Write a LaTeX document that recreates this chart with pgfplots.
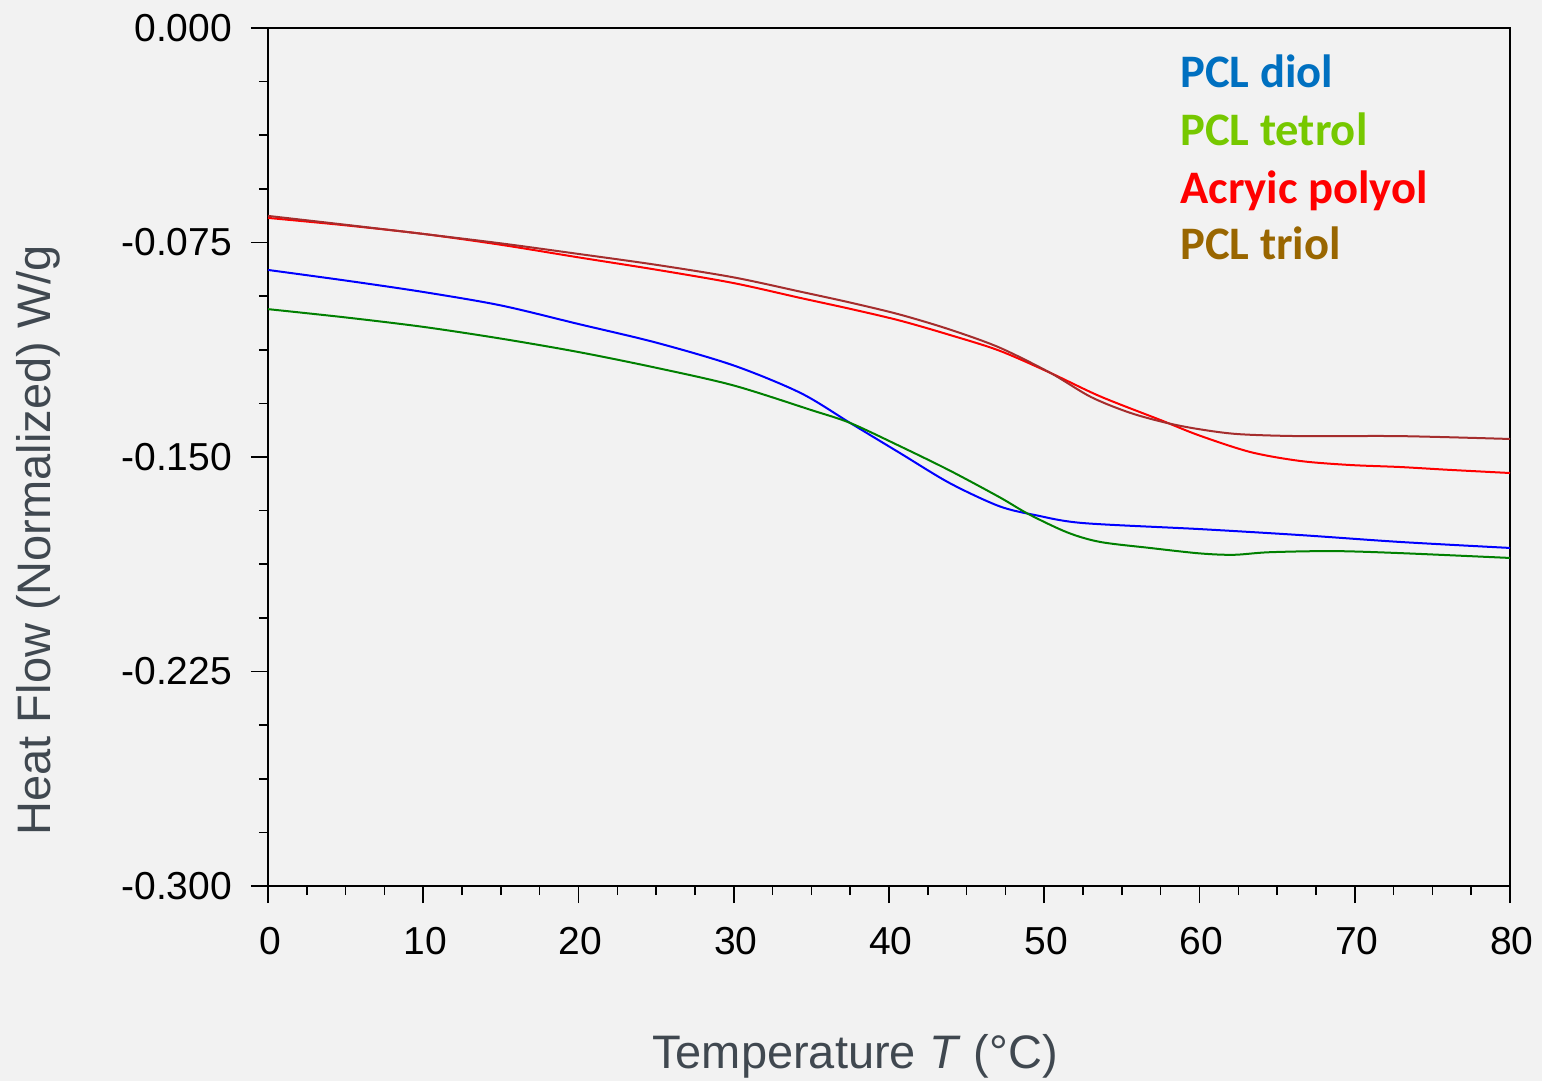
\documentclass[border=0pt]{standalone}
\usepackage{pgfplots}
\pgfplotsset{compat=1.18}
\usepackage{fontspec}
\setmainfont{Liberation Sans}
\newfontfamily\calibri{Carlito}
\definecolor{bg}{RGB}{242,242,242}
\definecolor{labgray}{RGB}{64,72,80}
\definecolor{legblue}{RGB}{0,112,192}
\definecolor{leggreen}{RGB}{118,200,0}
\definecolor{legbrown}{RGB}{153,102,0}
\definecolor{triolred}{RGB}{165,45,45}
\definecolor{tetgreen}{RGB}{0,128,0}
\begin{document}
\begin{tikzpicture}
\fill[bg] (-134pt,-97.5pt) rectangle (637pt,443pt);
\begin{axis}[
  scale only axis,
  width=621pt, height=429pt,
  xmin=0, xmax=80, ymin=-0.3, ymax=0,
  xtick={0,10,...,80},
  ytick={-0.3,-0.225,-0.15,-0.075,0},
  minor x tick num=3,
  minor y tick num=3,
  tick align=outside,
  xtick pos=bottom, ytick pos=left,
  major tick length=8.5pt, minor tick length=4.5pt,
  every tick/.style={black, line width=0.8pt},
  axis line style={line width=0.8pt},
  /pgf/number format/assume math mode=true,
  yticklabel style={/pgf/number format/fixed, /pgf/number format/fixed zerofill, /pgf/number format/precision=3, xshift=-6pt},
  ticklabel style={font=\fontsize{19.5}{22}\selectfont, black},
  xticklabel style={yshift=-8.5pt, xshift=1pt},
  xlabel={Temperature \textit{T} (°C)},
  ylabel={Heat Flow (Normalized) W/g},
  label style={font=\fontsize{23.5}{26}\selectfont, text=labgray},
  xlabel style={at={(axis description cs:0.4726,0)}, anchor=center, yshift=-85pt},
  ylabel style={at={(axis description cs:-0.1852,0.403)}, anchor=center},
  clip=false,
]
\addplot[red, line width=1pt, smooth] coordinates {
(0,-0.0664) (5,-0.0690) (10,-0.0720) (15,-0.0758) (20,-0.0802) (25,-0.0845)
(30,-0.0892) (34.3,-0.0944) (37.5,-0.0982) (40.7,-0.1023) (43.9,-0.1073)
(47.1,-0.1128) (50.4,-0.1206) (53.6,-0.1288) (57.5,-0.1371) (60,-0.1425) (63.3,-0.1483)
(66.5,-0.1514) (69.7,-0.1528) (72.9,-0.1535) (76.1,-0.1545) (80,-0.1556)};
\addplot[triolred, line width=1pt, smooth] coordinates {
(0,-0.0657) (5,-0.0688) (10,-0.0720) (15,-0.0753) (20,-0.0790) (25,-0.0828)
(30,-0.0872) (34.3,-0.0922) (37.5,-0.0960) (40.7,-0.1002) (43.9,-0.1054)
(47.1,-0.1117) (50.4,-0.1206) (53,-0.1290) (55.5,-0.1345) (57.9,-0.1381) (60,-0.1403) (62.5,-0.1420)
(66.5,-0.1427) (72.9,-0.1427) (80,-0.1437)};
\addplot[blue, line width=1pt, smooth] coordinates {
(0,-0.0846) (5,-0.0883) (10,-0.0923) (15,-0.0970) (20,-0.1035) (25,-0.1100)
(30,-0.1180) (34.3,-0.1276) (37.5,-0.1381) (40.7,-0.1486) (43.9,-0.1591) (47.1,-0.1672)
(49.5,-0.1704) (52.5,-0.1731) (60,-0.1752) (66.5,-0.1773) (72.9,-0.1797) (80,-0.1818)};
\addplot[tetgreen, line width=1pt, smooth] coordinates {
(0,-0.0983) (5,-0.1012) (10,-0.1045) (15,-0.1086) (20,-0.1133) (25,-0.1188)
(30,-0.1250) (35,-0.1336) (37.5,-0.1381) (40.7,-0.1462) (43.9,-0.1547)
(47.1,-0.1640) (49,-0.1700) (51.5,-0.1764) (53.6,-0.1797) (56.8,-0.1818) (60,-0.1837)
(62.2,-0.1842) (64.5,-0.1833) (68.6,-0.1829) (72.9,-0.1836) (80,-0.1853)};
\node[anchor=base west, inner sep=0, text=legblue, font=\calibri\bfseries\fontsize{23.3}{26}\selectfont] at (rel axis cs:0.7343,0.9312) {PCL diol};
\node[anchor=base west, inner sep=0, text=leggreen, font=\calibri\bfseries\fontsize{23.3}{26}\selectfont] at (rel axis cs:0.7343,0.8625) {PCL tetrol};
\node[anchor=base west, inner sep=0, text=red, font=\calibri\bfseries\fontsize{23.3}{26}\selectfont] at (rel axis cs:0.7343,0.7960) {Acryic polyol};
\node[anchor=base west, inner sep=0, text=legbrown, font=\calibri\bfseries\fontsize{23.3}{26}\selectfont] at (rel axis cs:0.7343,0.7296) {PCL triol};
\end{axis}
\pgfresetboundingbox
\useasboundingbox (-134pt,-97.5pt) rectangle (637pt,443pt);
\end{tikzpicture}
\end{document}
